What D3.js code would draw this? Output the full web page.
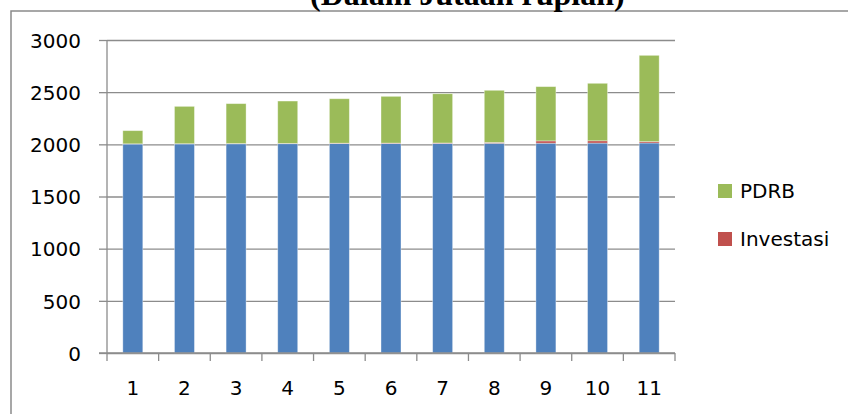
<!DOCTYPE html>
<html>
<head>
<meta charset="utf-8">
<script src="https://cdn.jsdelivr.net/npm/d3@7/dist/d3.min.js"></script>
<style>
  html, body { margin: 0; padding: 0; background: #fff; }
  svg { display: block; }
  .tick text { font-family: "DejaVu Sans", sans-serif; font-size: 20px; fill: #000; }
</style>
</head>
<body>
<svg id="chart" width="848" height="414"></svg>
<script>
// Stacked series per period: year base, investment, regional GDP (million rupiah)
const categories = ["1", "2", "3", "4", "5", "6", "7", "8", "9", "10", "11"];
const tahun      = [2003, 2004, 2005, 2006, 2007, 2008, 2009, 2010, 2011, 2012, 2013];
const investasi  = [2, 2, 3, 3, 4, 4, 4, 8, 22, 22, 13];
const pdrb       = [126, 358, 382, 406, 426, 448, 472, 500, 520, 551, 827];
const yTicks     = [0, 500, 1000, 1500, 2000, 2500, 3000];

const seriesKeys = ["Tahun", "Investasi", "PDRB"];
const colors = { Tahun: "#4F81BD", Investasi: "#C0504D", PDRB: "#9BBB59" };
const legendKeys = ["PDRB", "Investasi"];

const rows = categories.map((c, i) => ({
  cat: c, Tahun: tahun[i], Investasi: investasi[i], PDRB: pdrb[i]
}));

const svg = d3.select("#chart");
const plotLeft = 107, plotRight = 675, plotTop = 40, plotBottom = 353;

// Outer frame (top and left edges visible)
svg.append("path")
  .attr("d", "M11,414 L11,11 L848,11")
  .attr("fill", "none").attr("stroke", "#8a8a8a").attr("stroke-width", 1.5);

// Title (its upper part runs off the top edge)
svg.append("text")
  .attr("x", 310).attr("y", 5)
  .attr("font-family", "'Liberation Serif', 'Times New Roman', serif")
  .attr("font-weight", "bold").attr("font-size", 32)
  .text("(Dalam Jutaan rupiah)");

const x = d3.scaleBand().domain(categories).range([plotLeft, plotRight])
  .paddingInner(0.613).paddingOuter(0.3065);
const y = d3.scaleLinear().domain([0, 3000]).range([plotBottom, plotTop]);

// Horizontal gridlines
const grid = svg.append("g").attr("transform", `translate(${plotLeft},0)`)
  .call(d3.axisLeft(y).tickValues(yTicks).tickSize(-(plotRight - plotLeft)).tickFormat(""));
grid.select(".domain").remove();
grid.selectAll("line").attr("stroke", "#8c8c8c").attr("stroke-width", 1.3);

// Stacked bars
const stacked = d3.stack().keys(seriesKeys)(rows);
svg.append("g").selectAll("g").data(stacked).join("g")
  .attr("fill", d => colors[d.key])
  .selectAll("rect").data(d => d).join("rect")
  .attr("x", d => x(d.data.cat))
  .attr("width", x.bandwidth())
  .attr("y", d => y(d[1]))
  .attr("height", d => y(d[0]) - y(d[1]))
  .attr("stroke", "rgba(255,255,255,0.45)").attr("stroke-width", 0.8);

// Y axis
const yAxis = svg.append("g").attr("transform", `translate(${plotLeft},0)`)
  .call(d3.axisLeft(y).tickValues(yTicks).tickSize(8).tickPadding(18).tickFormat(d3.format("d")));
yAxis.selectAll("line, .domain").attr("stroke", "#8c8c8c").attr("stroke-width", 1.3);
yAxis.select(".domain").attr("d", `M0,${plotTop}V${plotBottom}`);
yAxis.selectAll("text").attr("dy", "0.36em");

// X axis: labels centred on bars, tick marks at category boundaries
const xAxis = svg.append("g").attr("transform", `translate(0,${plotBottom})`)
  .call(d3.axisBottom(x).tickSize(0).tickPadding(28));
xAxis.select(".domain").attr("d", `M${plotLeft - 8},0H${plotRight}`)
  .attr("stroke", "#8c8c8c").attr("stroke-width", 1.3);
const gap = x.step() * x.paddingInner() / 2;
const bounds = categories.map(c => x(c) - gap)
  .concat([x(categories[categories.length - 1]) + x.bandwidth() + gap]);
xAxis.selectAll("line.bound").data(bounds).join("line")
  .attr("class", "bound")
  .attr("x1", d => d).attr("x2", d => d)
  .attr("y1", 0).attr("y2", 8)
  .attr("stroke", "#8c8c8c").attr("stroke-width", 1.3);

// Legend
const legend = svg.append("g").selectAll("g").data(legendKeys).join("g")
  .attr("transform", (d, i) => `translate(718,${184 + i * 48})`);
legend.append("rect").attr("width", 14).attr("height", 14).attr("fill", d => colors[d]);
legend.append("text").attr("x", 22).attr("y", 14)
  .attr("font-family", "'DejaVu Sans', sans-serif").attr("font-size", 20)
  .text(d => d);
</script>
</body>
</html>
